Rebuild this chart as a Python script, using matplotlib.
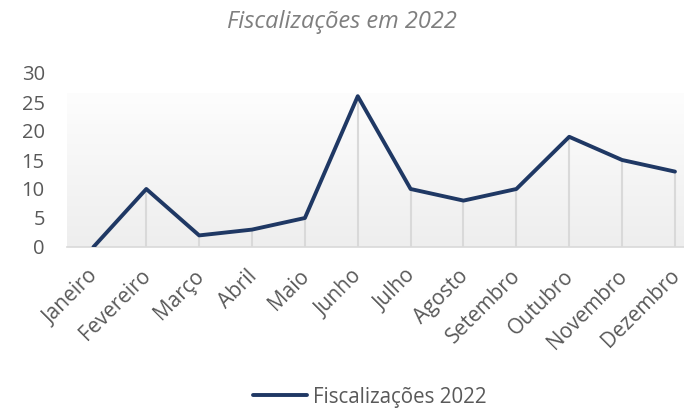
import matplotlib
matplotlib.use("Agg")
import matplotlib.pyplot as plt
import matplotlib.transforms as mtransforms
import numpy as np
from matplotlib.colors import LinearSegmentedColormap

months = ["Janeiro", "Fevereiro", "Março", "Abril", "Maio", "Junho", "Julho",
          "Agosto", "Setembro", "Outubro", "Novembro", "Dezembro"]
values = [0, 10, 2, 3, 5, 26, 10, 8, 10, 19, 15, 13]
yticks = [0, 5, 10, 15, 20, 25, 30]
title = "Fiscalizações em 2022"
series_name = "Fiscalizações 2022"

plt.rcParams['font.family'] = ['Open Sans', 'DejaVu Sans']

fig = plt.figure(figsize=(6.84, 4.09), dpi=100)
ax = fig.add_axes([67/684, 1-247/409, 1-67/684, (247-73)/409])

x = np.arange(len(months))
xmin, xmax = -0.5, len(months) - 1 + 9/52.6
ax.set_xlim(xmin, xmax)
ax.set_ylim(0, 30)

# gradient background
cmap = LinearSegmentedColormap.from_list("g", ["#eeeeee", "#fdfdfd"])
grad = np.linspace(0, 1, 256).reshape(-1, 1)
ax.imshow(grad, extent=[xmin, xmax, 0, 26.5], origin="lower", cmap=cmap,
          aspect="auto", zorder=0)

ax.vlines(x, 0, values, color="#d9d9d9", lw=1.5, zorder=1)
ax.plot(x, values, color="#1f3864", lw=2.8, solid_joinstyle="round",
        solid_capstyle="round", zorder=3, label=series_name)

for s in ["top", "right", "left"]:
    ax.spines[s].set_visible(False)
ax.spines["bottom"].set_color("#d9d9d9")
ax.spines["bottom"].set_linewidth(1.2)

ax.set_yticks(yticks)
ax.set_xticks(x)
ax.set_xticklabels(months, rotation=45, ha="right", rotation_mode="anchor")
ax.tick_params(axis="both", length=0, colors="#595959")
ax.tick_params(axis="x", labelsize=15, pad=12)
ax.tick_params(axis="y", labelsize=14.5, pad=16)

offset = mtransforms.ScaledTranslation(-6/100, -2/100, fig.dpi_scale_trans)
for lbl in ax.get_xticklabels():
    lbl.set_transform(lbl.get_transform() + offset)

fig.text(0.5, 1-22/409, title, ha="center", va="center", fontsize=17,
         style="italic", color="#7f7f7f")

leg = fig.legend(loc="center", bbox_to_anchor=(370/684, 1-397/409), frameon=False,
                 fontsize=14.8, handlelength=2.6, handletextpad=0.3)
for t in leg.get_texts():
    t.set_color("#595959")

fig.savefig("out.png", dpi=100)
